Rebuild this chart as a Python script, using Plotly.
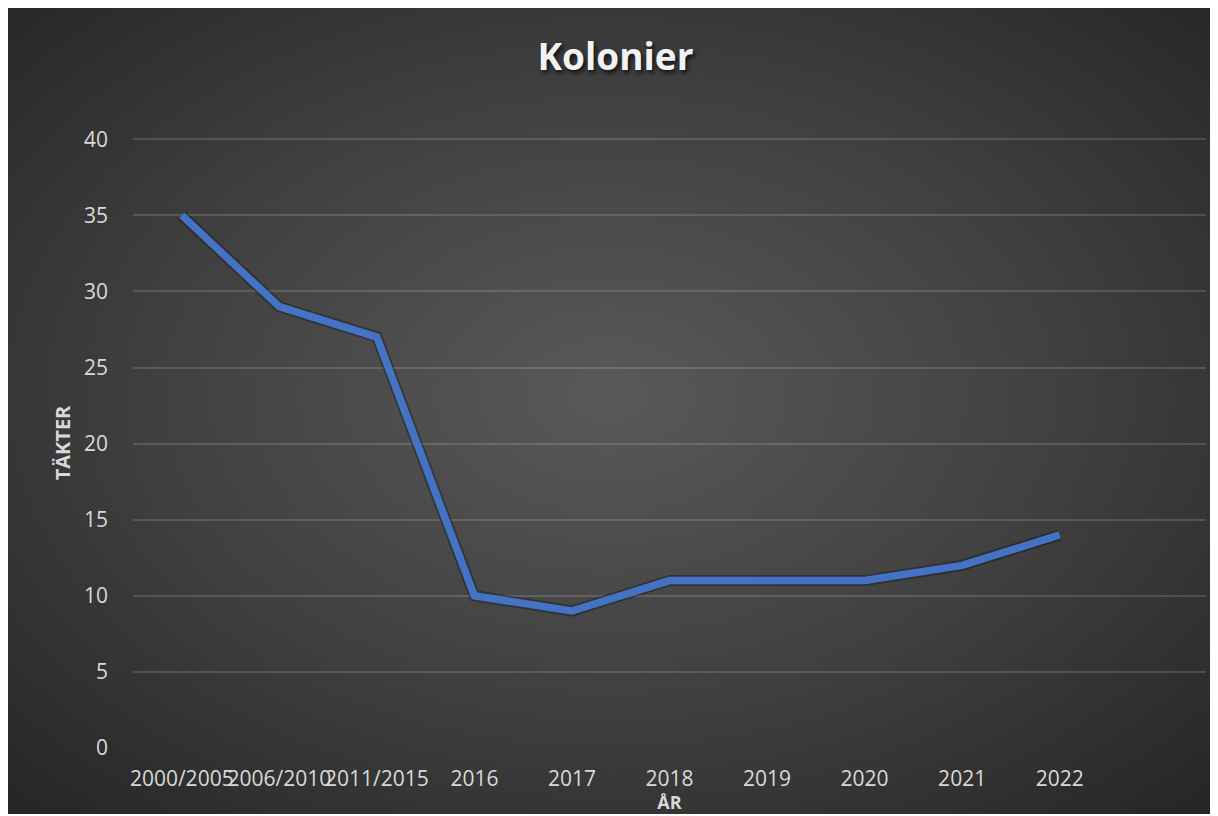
import base64
import plotly.graph_objects as go

categories = ["2000/2005", "2006/2010", "2011/2015", "2016", "2017", "2018",
              "2019", "2020", "2021", "2022"]
values = [35, 29, 27, 10, 9, 11, 11, 11, 12, 14]
y_ticks = [0, 5, 10, 15, 20, 25, 30, 35, 40]

W, H = 1203, 806
ML, MR, MT, MB = 125, 5, 130, 66
PW, PH = W - ML - MR, H - MT - MB

svg = f'''<svg xmlns="http://www.w3.org/2000/svg" width="{W}" height="{H}" viewBox="0 0 {W} {H}">
<defs><radialGradient id="g" cx="50%" cy="48%" r="75%" gradientUnits="objectBoundingBox">
<stop offset="0%" stop-color="#595959"/>
<stop offset="50%" stop-color="#404040"/>
<stop offset="100%" stop-color="#232323"/>
</radialGradient></defs>
<rect x="0" y="0" width="{W}" height="{H}" fill="url(#g)"/></svg>'''
src = "data:image/svg+xml;base64," + base64.b64encode(svg.encode()).decode()

x_idx = list(range(len(categories)))

fig = go.Figure()
fig.add_trace(go.Scatter(
    x=x_idx, y=values, mode="lines",
    line=dict(color="rgba(0,0,0,0.3)", width=11),
    hoverinfo="skip", showlegend=False))
fig.add_trace(go.Scatter(
    x=x_idx, y=values, mode="lines",
    line=dict(color="#4472C4", width=7.5),
    showlegend=False))

fig.update_layout(
    width=W, height=H,
    paper_bgcolor="#262626",
    plot_bgcolor="rgba(0,0,0,0)",
    margin=dict(l=ML, r=MR, t=MT, b=MB, pad=0, autoexpand=False),
    images=[dict(source=src, xref="paper", yref="paper",
                 x=-ML / PW, y=1 + MT / PH,
                 sizex=W / PW, sizey=H / PH, xanchor="left", yanchor="top",
                 sizing="stretch", layer="below")],
    title=dict(text="<b>Kolonier</b>", x=0.505, xanchor="center",
               y=1 - 49 / H, yanchor="middle",
               font=dict(family="Open Sans", size=37, color="#f2f2f2",
                         shadow="2px 3px 4px rgba(0,0,0,0.7)")),
    font=dict(family="Open Sans", color="#d9d9d9"),
    xaxis=dict(
        range=[-0.5, 10.5], tickmode="array", tickvals=x_idx, ticktext=categories,
        tickangle=0, showgrid=False, zeroline=False, showline=False, automargin=False,
        tickfont=dict(size=21, color="#d9d9d9"), ticks="", ticklabelstandoff=16,
        title=dict(text="<b>ÅR</b>", font=dict(size=18, color="#d9d9d9"), standoff=7),
    ),
    yaxis=dict(
        range=[0, 40.08], tickmode="array", tickvals=y_ticks, automargin=False,
        showgrid=True, gridcolor="rgba(255,255,255,0.14)", gridwidth=1.5,
        zeroline=False, showline=False, ticks="", ticklabelstandoff=24,
        tickfont=dict(size=21, color="#d9d9d9"),
        title=dict(text="<b>TÄKTER</b>", font=dict(size=20, color="#d9d9d9"), standoff=7),
    ),
)

fig.write_html("out.html")
